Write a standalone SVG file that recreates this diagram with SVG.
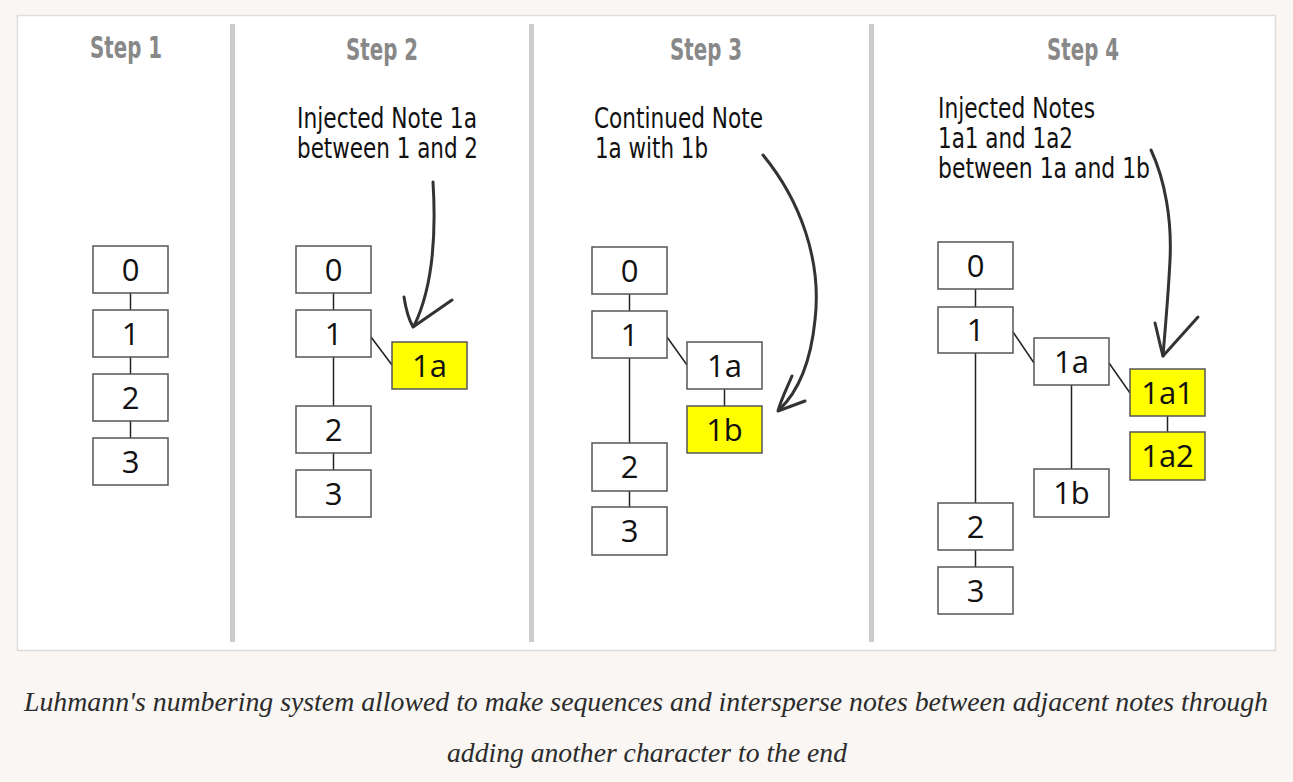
<svg xmlns="http://www.w3.org/2000/svg" width="1293" height="782" viewBox="0 0 1293 782">
<style>
.title{font-family:"DejaVu Sans Condensed","DejaVu Sans",sans-serif;font-stretch:condensed;font-weight:bold;font-size:30px;fill:#888;text-anchor:middle}
.ann{font-family:"DejaVu Sans Condensed","DejaVu Sans",sans-serif;font-stretch:condensed;font-size:28px;fill:#111}
.box{fill:#fff;stroke:#555;stroke-width:1.5}
.hl{fill:#ffff00;stroke:#555;stroke-width:1.5}
.lbl{font-family:"Open Sans","Noto Sans",sans-serif;font-size:31px;fill:#111;text-anchor:middle}
.edge{stroke:#222;stroke-width:1.5;fill:none}
.arrow{stroke:#333;stroke-width:3;fill:none;stroke-linecap:round;stroke-linejoin:round}
.sep{fill:#ccc}
.cap{font-family:"Liberation Serif",serif;font-style:italic;font-size:28px;fill:#2b2b2b;text-anchor:middle}
</style>
<rect x="0" y="0" width="1293" height="782" fill="#f9f6f3"/>
<rect x="17.5" y="15.5" width="1258" height="635" fill="#fff" stroke="#ddd" stroke-width="1.5"/>
<rect class="sep" x="230" y="24" width="5" height="618"/>
<rect class="sep" x="529" y="24" width="5" height="618"/>
<rect class="sep" x="869" y="24" width="5" height="618"/>

<g id="titles">
<text class="title" x="126" y="58" textLength="72" lengthAdjust="spacingAndGlyphs">Step 1</text>
<text class="title" x="382" y="60" textLength="72" lengthAdjust="spacingAndGlyphs">Step 2</text>
<text class="title" x="706" y="60" textLength="72" lengthAdjust="spacingAndGlyphs">Step 3</text>
<text class="title" x="1083" y="60" textLength="72" lengthAdjust="spacingAndGlyphs">Step 4</text>
</g>

<g id="annotations">
<text class="ann" x="297" y="128" textLength="180" lengthAdjust="spacingAndGlyphs">Injected Note 1a</text>
<text class="ann" x="297" y="158" textLength="181" lengthAdjust="spacingAndGlyphs">between 1 and 2</text>
<text class="ann" x="594" y="128" textLength="169" lengthAdjust="spacingAndGlyphs">Continued Note</text>
<text class="ann" x="595" y="158" textLength="113" lengthAdjust="spacingAndGlyphs">1a with 1b</text>
<text class="ann" x="938" y="118" textLength="157" lengthAdjust="spacingAndGlyphs">Injected Notes</text>
<text class="ann" x="938" y="148" textLength="135" lengthAdjust="spacingAndGlyphs">1a1 and 1a2</text>
<text class="ann" x="938" y="178" textLength="212" lengthAdjust="spacingAndGlyphs">between 1a and 1b</text>
</g>

<g id="connectors">
<line class="edge" x1="130.5" y1="293" x2="130.5" y2="310"/>
<line class="edge" x1="130.5" y1="357" x2="130.5" y2="374"/>
<line class="edge" x1="130.5" y1="421" x2="130.5" y2="438"/>
<line class="edge" x1="333.5" y1="293" x2="333.5" y2="310"/>
<line class="edge" x1="333.5" y1="357" x2="333.5" y2="406"/>
<line class="edge" x1="333.5" y1="453" x2="333.5" y2="470"/>
<line class="edge" x1="371" y1="337" x2="392" y2="365"/>
<line class="edge" x1="629.5" y1="294" x2="629.5" y2="311"/>
<line class="edge" x1="629.5" y1="358" x2="629.5" y2="443"/>
<line class="edge" x1="629.5" y1="491" x2="629.5" y2="507"/>
<line class="edge" x1="667" y1="337" x2="687" y2="365"/>
<line class="edge" x1="724.5" y1="389" x2="724.5" y2="406"/>
<line class="edge" x1="975.5" y1="289" x2="975.5" y2="307"/>
<line class="edge" x1="975.5" y1="353" x2="975.5" y2="503"/>
<line class="edge" x1="975.5" y1="550" x2="975.5" y2="567"/>
<line class="edge" x1="1013" y1="332" x2="1034" y2="363"/>
<line class="edge" x1="1109" y1="363" x2="1130" y2="393"/>
<line class="edge" x1="1071.5" y1="385" x2="1071.5" y2="469"/>
<line class="edge" x1="1167.5" y1="416" x2="1167.5" y2="432"/>
<path class="arrow" d="M433,182 C436,230 434,285 414,326"/>
<path class="arrow" d="M404,297 C406,310 408,318 413,327 L452,300"/>
<path class="arrow" d="M763,155 C800,200 822,260 815,320 C811,360 800,390 779,410"/>
<path class="arrow" d="M792,376 C786,390 781,400 778,411 L805,401"/>
<path class="arrow" d="M1151,150 C1165,180 1172,220 1170,260 C1168,300 1165,330 1163,356"/>
<path class="arrow" d="M1155,323 C1158,335 1160,345 1163,356 L1198,317"/>
</g>

<g id="s1-n0"><rect class="box" x="93" y="246" width="75" height="47"/><text class="lbl" x="130.5" y="281">0</text></g>
<g id="s1-n1"><rect class="box" x="93" y="310" width="75" height="47"/><text class="lbl" x="130.5" y="345">1</text></g>
<g id="s1-n2"><rect class="box" x="93" y="374" width="75" height="47"/><text class="lbl" x="130.5" y="409">2</text></g>
<g id="s1-n3"><rect class="box" x="93" y="438" width="75" height="47"/><text class="lbl" x="130.5" y="473">3</text></g>

<g id="s2-n0"><rect class="box" x="296" y="246" width="75" height="47"/><text class="lbl" x="333.5" y="281">0</text></g>
<g id="s2-n1"><rect class="box" x="296" y="310" width="75" height="47"/><text class="lbl" x="333.5" y="345">1</text></g>
<g id="s2-n1a"><rect class="hl" x="392" y="342" width="75" height="47"/><text class="lbl" x="429.5" y="377">1a</text></g>
<g id="s2-n2"><rect class="box" x="296" y="406" width="75" height="47"/><text class="lbl" x="333.5" y="441">2</text></g>
<g id="s2-n3"><rect class="box" x="296" y="470" width="75" height="47"/><text class="lbl" x="333.5" y="505">3</text></g>

<g id="s3-n0"><rect class="box" x="592" y="247" width="75" height="47"/><text class="lbl" x="629.5" y="282">0</text></g>
<g id="s3-n1"><rect class="box" x="592" y="311" width="75" height="47"/><text class="lbl" x="629.5" y="346">1</text></g>
<g id="s3-n1a"><rect class="box" x="687" y="342" width="75" height="47"/><text class="lbl" x="724.5" y="377">1a</text></g>
<g id="s3-n1b"><rect class="hl" x="687" y="406" width="75" height="47"/><text class="lbl" x="724.5" y="441">1b</text></g>
<g id="s3-n2"><rect class="box" x="592" y="443" width="75" height="48"/><text class="lbl" x="629.5" y="478">2</text></g>
<g id="s3-n3"><rect class="box" x="592" y="507" width="75" height="48"/><text class="lbl" x="629.5" y="542">3</text></g>

<g id="s4-n0"><rect class="box" x="938" y="242" width="75" height="47"/><text class="lbl" x="975.5" y="277">0</text></g>
<g id="s4-n1"><rect class="box" x="938" y="307" width="75" height="46"/><text class="lbl" x="975.5" y="341">1</text></g>
<g id="s4-n1a"><rect class="box" x="1034" y="338" width="75" height="47"/><text class="lbl" x="1071.5" y="373">1a</text></g>
<g id="s4-n1a1"><rect class="hl" x="1130" y="369" width="75" height="47"/><text class="lbl" x="1167.5" y="404">1a1</text></g>
<g id="s4-n1a2"><rect class="hl" x="1130" y="432" width="75" height="48"/><text class="lbl" x="1167.5" y="467">1a2</text></g>
<g id="s4-n1b"><rect class="box" x="1034" y="469" width="75" height="48"/><text class="lbl" x="1071.5" y="504">1b</text></g>
<g id="s4-n2"><rect class="box" x="938" y="503" width="75" height="47"/><text class="lbl" x="975.5" y="538">2</text></g>
<g id="s4-n3"><rect class="box" x="938" y="567" width="75" height="47"/><text class="lbl" x="975.5" y="602">3</text></g>

<g id="caption">
<text class="cap" x="646" y="711" textLength="1244" lengthAdjust="spacingAndGlyphs">Luhmann's numbering system allowed to make sequences and intersperse notes between adjacent notes through</text>
<text class="cap" x="647" y="762" textLength="400" lengthAdjust="spacingAndGlyphs">adding another character to the end</text>
</g>
</svg>
